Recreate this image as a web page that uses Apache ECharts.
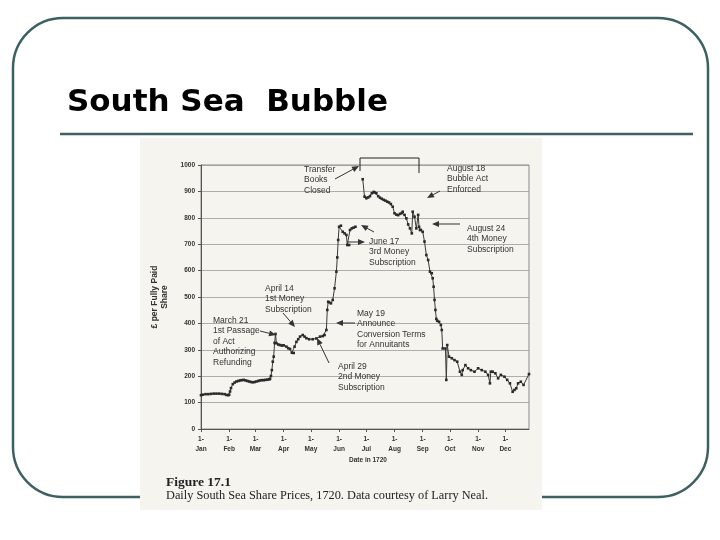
<!DOCTYPE html>
<html>
<head>
<meta charset="utf-8">
<script src="https://cdn.jsdelivr.net/npm/echarts@6/dist/echarts.min.js"></script>
<style>html,body{margin:0;padding:0;background:#fff}#c{width:720px;height:540px}</style>
</head>
<body>
<div id="c"></div>
<script>
// Day of year 1720 (leap year) and price in £ per fully paid share
const days = [1,3,6,9,12,15,18,21,24,27,29,31,32,33,34,36,38,40,42,44,46,48,50,52,54,56,58,60,62,64,66,68,70,72,74,76,77,78,79,80,81,82,83,84,86,88,90,92,95,97,99,101,103,104,106,108,110,113,115,117,120,124,128,132,135,137,139,140,141,142,144,146,148,150,151,152,153,155,157,159,161,162,164,165,167,169,171,175,179,181,183,185,187,189,191,192,194,196,198,200,202,204,206,208,210,212,214,216,218,220,222,223,225,227,229,231,233,234,236,238,240,241,242,243,245,247,249,251,253,255,256,257,258,259,260,261,263,265,266,267,270,271,272,274,277,280,283,286,288,289,292,295,298,302,306,310,314,317,319,320,322,325,328,331,335,338,341,344,346,348,350,353,356,362];
const prices = [128,130,132,132,133,134,134,134,133,132,129,128,130,142,155,170,176,180,182,184,185,186,184,182,180,178,177,178,180,182,184,185,185,186,187,188,190,201,223,255,274,326,360,325,320,318,316,317,312,306,303,289,288,312,330,340,350,356,350,344,340,340,343,350,352,356,375,451,482,480,476,489,533,596,650,716,766,770,747,741,735,697,697,754,760,763,766,null,946,880,874,877,882,893,898,896,893,882,876,872,868,865,861,858,852,842,817,812,810,815,818,823,811,798,775,760,741,823,804,760,811,766,754,754,747,710,659,640,596,590,571,539,489,451,417,410,406,394,375,305,305,186,318,274,268,261,255,217,205,223,242,230,223,217,230,223,217,205,173,217,217,211,192,205,198,186,173,141,148,154,173,179,167,208];

const monthTicks = [1,32,61,92,122,153,183,214,245,275,306,336];
const monthNames = ['Jan','Feb','Mar','Apr','May','Jun','Jul','Aug','Sep','Oct','Nov','Dec'];

const seriesData = days.map((d,i)=>[d, prices[i]]);

const INK = '#333';
const FONT = 'Liberation Sans, Arial, sans-serif';

function arrow(x1,y1,x2,y2){
  const a = Math.atan2(y2-y1, x2-x1);
  const L = 7, W = 3;
  const bx = x2 - L*Math.cos(a), by = y2 - L*Math.sin(a);
  return [
    {type:'line', z:50, shape:{x1:x1,y1:y1,x2:bx,y2:by}, style:{stroke:INK, lineWidth:1}},
    {type:'polygon', z:50, shape:{points:[[x2,y2],[bx - W*Math.sin(a), by + W*Math.cos(a)],[bx + W*Math.sin(a), by - W*Math.cos(a)]]}, style:{fill:INK}}
  ];
}
function note(x,y,txt){
  return {type:'text', z:50, x:x, y:y, style:{text:txt, font:'8.5px '+FONT, fill:INK, lineHeight:10.5, textVerticalAlign:'top'}};
}

const graphics = [
  {type:'rect', z:-10, shape:{x:13,y:18,width:695,height:479,r:50}, style:{fill:'#fff', stroke:'#3d6161', lineWidth:2.5}},
  {type:'text', z:-5, x:67, y:118, style:{text:'South Sea  Bubble', font:'bold 31px DejaVu Sans, sans-serif', fill:'#000', textVerticalAlign:'bottom'}},
  {type:'line', z:-5, shape:{x1:60,y1:134,x2:693,y2:134}, style:{stroke:'#3d6161', lineWidth:2.5}},
  {type:'rect', z:-4, shape:{x:140,y:138,width:402,height:372}, style:{fill:'#f6f4ee'}},
  {type:'text', z:50, x:160, y:297, rotation:Math.PI/2, style:{text:'£ per Fully Paid\nShare', font:'bold 8.5px '+FONT, fill:INK, align:'center', verticalAlign:'middle', lineHeight:10}},
  {type:'text', z:50, x:368, y:460, style:{text:'Date in 1720', font:'bold 6.5px '+FONT, fill:INK, align:'center', verticalAlign:'middle'}},
  {type:'text', z:50, x:166, y:483, style:{text:'Figure 17.1', font:'bold 13.5px Liberation Serif, Times New Roman, serif', fill:'#222', verticalAlign:'middle'}},
  {type:'text', z:50, x:166, y:496, style:{text:'Daily South Sea Share Prices, 1720. Data courtesy of Larry Neal.', font:'12.3px Liberation Serif, Times New Roman, serif', fill:'#222', verticalAlign:'middle'}},
  {type:'polyline', z:50, shape:{points:[[360,171],[360,158],[419,158],[419,173]]}, style:{stroke:'#222', lineWidth:1, fill:null}},
  note(304,164,'Transfer\nBooks\nClosed'),
  note(447,163,'August 18\nBubble Act\nEnforced'),
  note(467,223,'August 24\n4th Money\nSubscription'),
  note(369,236,'June 17\n3rd Money\nSubscription'),
  note(265,283,'April 14\n1st Money\nSubscription'),
  note(213,315,'March 21\n1st Passage\nof Act\nAuthorizing\nRefunding'),
  note(357,308,'May 19\nAnnounce\nConversion Terms\nfor Annuitants'),
  note(338,361,'April 29\n2nd Money\nSubscription'),
  ...arrow(335,179,359,166),
  ...arrow(440,191,427,198),
  ...arrow(460,224,432,224),
  ...arrow(374,232,361,225),
  ...arrow(347,242,365,242),
  ...arrow(283,313,295,327),
  ...arrow(260,331,276,335),
  ...arrow(355,323,336,323),
  ...arrow(329,363,317,338)
];

const chart = echarts.init(document.getElementById('c'), null, {renderer:'canvas'});
chart.setOption({
  animation:false,
  backgroundColor:'transparent',
  grid:{left:201, right:191, top:165, bottom:111, show:true, borderColor:'#8a8a8a', borderWidth:1, backgroundColor:'transparent'},
  xAxis:{
    type:'value', min:1, max:362,
    axisLine:{show:true, lineStyle:{color:'#555', width:1}},
    splitLine:{show:false},
    axisTick:{show:true, customValues:monthTicks, length:3, lineStyle:{color:'#555'}},
    axisLabel:{customValues:monthTicks, formatter:v=>'1-\n'+monthNames[monthTicks.indexOf(v)], fontSize:6.5, fontWeight:'bold', fontFamily:FONT, color:INK, lineHeight:10, margin:5}
  },
  yAxis:{
    type:'value', min:0, max:1000, interval:100,
    axisLine:{show:true, lineStyle:{color:'#555', width:1}},
    axisTick:{show:true, length:3, lineStyle:{color:'#555'}},
    splitLine:{show:true, lineStyle:{color:'#9a9a9a', width:0.8}},
    axisLabel:{formatter:v=>String(v), fontSize:6.5, fontWeight:'bold', fontFamily:FONT, color:INK, margin:6}
  },
  series:[{
    type:'line', data:seriesData, connectNulls:false,
    symbol:'rect', symbolSize:2.6, showSymbol:true,
    lineStyle:{color:'#3a3a3a', width:1},
    itemStyle:{color:'#2a2a2a'}
  }],
  graphic:graphics
});
</script>
</body>
</html>
